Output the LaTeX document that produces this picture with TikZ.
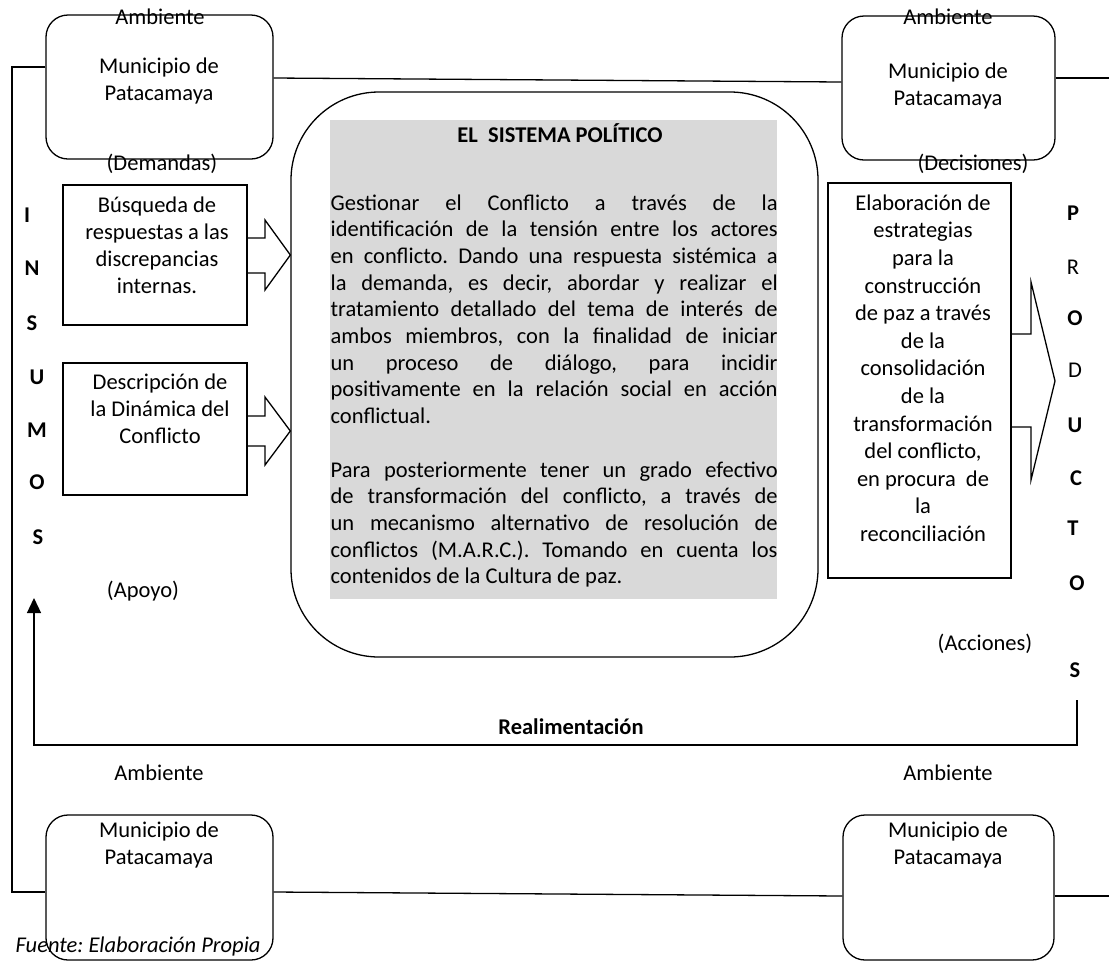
\documentclass[tikz,border=0pt]{standalone}
\usepackage{fontspec}
\setmainfont{Carlito}
\usetikzlibrary{arrows.meta}
\definecolor{grayfill}{HTML}{D9D9D9}
\newcommand{\justline}[1]{\makebox[447pt][s]{#1}}
\frenchspacing
\begin{document}
\begin{tikzpicture}[x=1pt,y=-1pt,line width=1.3pt,
  every node/.style={inner sep=0pt},
  smallbox/.style={draw, rounded corners=22pt},
  plainbox/.style={draw},
  t1/.style={font=\fontsize{22.5}{27}\selectfont, anchor=base},
  tb/.style={font=\fontsize{22.5}{27}\selectfont\bfseries, anchor=base},
  tm/.style={font=\fontsize{22.5}{27}\selectfont, align=center, anchor=north, execute at begin node=\strut},
  gl/.style={font=\fontsize{22.5}{27}\selectfont, anchor=base west}]
\useasboundingbox (0,0) rectangle (1109,962);

% environment boxes
\node[smallbox, minimum width=227pt, minimum height=144pt] (tl) at (159.5,87) {};
\node[smallbox, minimum width=213pt, minimum height=144pt] (tr) at (948.5,88) {};
\node[smallbox, minimum width=227pt, minimum height=145pt] (bl) at (159.5,887.5) {};
\node[smallbox, minimum width=211pt, minimum height=145pt] (br) at (948.5,887.5) {};
\coordinate (rtop) at (1109,78);
\coordinate (rbot) at (1109,896);

% system
\node[draw, rounded corners=88pt, minimum width=527pt, minimum height=565pt] (sys) at (554.5,374.5) {};
\node[fill=grayfill, minimum width=447pt, minimum height=479pt] (gray) at (553.5,359.5) {};

% inputs / outputs
\node[plainbox, minimum width=184pt, minimum height=140pt] (in1) at (155,255) {};
\node[plainbox, minimum width=184pt, minimum height=132pt] (in2) at (155,429) {};
\node[plainbox, minimum width=183pt, minimum height=395pt] (out) at (919.5,380.5) {};

% environment connectors
\draw (tl.west |- 0,67) -- (12,67) -- (12,892) -- (bl.west |- 0,892);
\draw (tl.east |- 0,78) -- (tr.west |- 0,82);
\draw (tr.east |- 0,78) -- (rtop);
\draw (bl.east |- 0,892) -- (br.west |- 0,896);
\draw (br.east |- 0,896) -- (rbot);

% block arrows
\draw (in1.east |- 0,238) -- (265,238) -- (265,220) -- (sys.west |- 0,255) -- (265,290) -- (265,273) -- (in1.east |- 0,273);
\draw (in2.east |- 0,416) -- (265,416) -- (265,397) -- (sys.west |- 0,431) -- (265,465) -- (265,446) -- (in2.east |- 0,446);
\draw (out.east |- 0,334) -- (1031,334) -- (1031,282) -- (1055,381) -- (1031,480) -- (1031,427) -- (out.east |- 0,427);

% feedback
\coordinate (fbs) at (1077,700);
\coordinate (fbe) at (34,598);
\draw[-{Triangle[length=15pt,width=14pt]}] (fbs) -- (1077,745) -- (34,745) -- (fbe);

% texts
\node[t1] (amb1) at (160,24) {Ambiente};
\node[tm] (mun1) at (159,57) {Municipio de\\Patacamaya};
\node[t1] (dem) at (162,170) {(Demandas)};
\node[t1] (amb2) at (948,24) {Ambiente};
\node[tm] (mun2) at (948,62) {Municipio de\\Patacamaya};
\node[t1] (dec) at (973,170) {(Decisiones)};
\node[t1] (amb3) at (159,780) {Ambiente};
\node[tm] (mun3) at (159,821) {Municipio de\\Patacamaya};
\node[t1] (amb4) at (948,780) {Ambiente};
\node[tm] (mun4) at (948,821) {Municipio de\\Patacamaya};
\node[font=\fontsize{22.5}{27}\selectfont\itshape, anchor=base west] (src) at (15,952) {Fuente: Elaboración Propia};

\node[tm] (in1t) at (157,196) {Búsqueda de\\respuestas a las\\discrepancias\\internas.};
\node[tm] (in2t) at (160,373) {Descripción de\\la Dinámica del\\Conflicto};
\node[tm, font=\fontsize{22.5}{27.6}\selectfont] (outt) at (923,194) {Elaboración de\\estrategias\\para la\\construcción\\de paz a través\\de la\\consolidación\\de la\\transformación\\del conflicto,\\en procura~~de\\la\\reconciliación};

\node[t1] (apoyo) at (143,597) {(Apoyo)};
\node[t1] (acc) at (985,650) {(Acciones)};
\node[tb] (real) at (571,734) {Realimentación};

\foreach \ch/\xx/\yy [count=\i] in {I/27/215, N/32/268, S/32/323, U/37/377, M/37/430, O/37/482, S/38/537}
  \node[tb] (ins\i) at (\xx,\yy+7) {\ch};
\foreach \ch/\xx/\yy [count=\i] in {\textbf{P}/1073/213, R/1073/267, \textbf{O}/1075/318, D/1075/370, \textbf{U}/1075/425, \textbf{C}/1076/478, \textbf{T}/1073/528, \textbf{O}/1077/583, \textbf{S}/1075/670}
  \node[t1] (prd\i) at (\xx,\yy+7) {\ch};

% system text
\node[tb] (title) at (560,142) {EL\ \ SISTEMA POLÍTICO};
\node[gl] (g1) at (330,210) {\justline{Gestionar el Conflicto a través de la}};
\node[gl] (g2) at (330,236.7) {\justline{identificación de la tensión entre los actores}};
\node[gl] (g3) at (330,263.4) {\justline{en conflicto. Dando una respuesta sistémica a}};
\node[gl] (g4) at (330,290.1) {\justline{la demanda, es decir, abordar y realizar el}};
\node[gl] (g5) at (330,316.8) {\justline{tratamiento detallado del tema de interés de}};
\node[gl] (g6) at (330,343.5) {\justline{ambos miembros, con la finalidad de iniciar}};
\node[gl] (g7) at (330,370.2) {\justline{un proceso de diálogo, para incidir}};
\node[gl] (g8) at (330,396.9) {\justline{positivamente en la relación social en acción}};
\node[gl] (g9) at (330,423.6) {conflictual.};
\node[gl] (g10) at (330,477) {\justline{Para posteriormente tener un grado efectivo}};
\node[gl] (g11) at (330,503.7) {\justline{de transformación del conflicto, a través de}};
\node[gl] (g12) at (330,530.4) {\justline{un mecanismo alternativo de resolución de}};
\node[gl] (g13) at (330,557.1) {\justline{conflictos (M.A.R.C.). Tomando en cuenta los}};
\node[gl] (g14) at (330,583.8) {contenidos de la Cultura de paz.};
\end{tikzpicture}
\end{document}
